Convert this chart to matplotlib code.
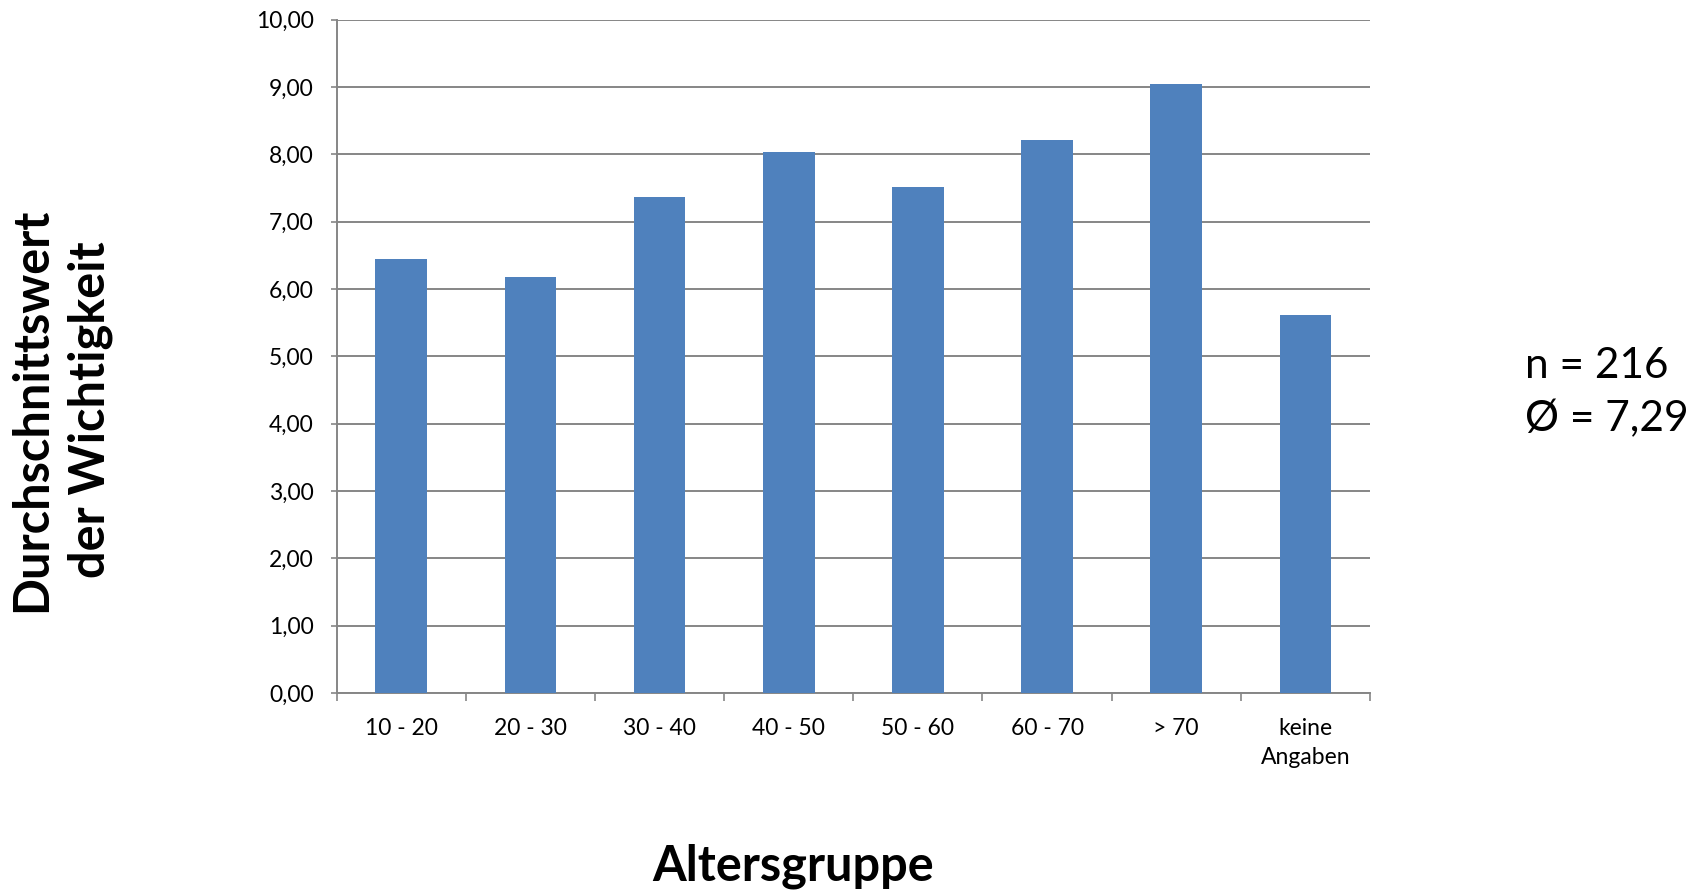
import matplotlib
matplotlib.use("Agg")
import matplotlib.pyplot as plt
import numpy as np
from matplotlib.ticker import FixedLocator

categories = ["10 - 20", "20 - 30", "30 - 40", "40 - 50", "50 - 60", "60 - 70", "> 70", "keine\nAngaben"]
values = [6.45, 6.17, 7.36, 8.03, 7.52, 8.21, 9.04, 5.61]
yticks = [0, 1, 2, 3, 4, 5, 6, 7, 8, 9, 10]
ytick_labels = ["0,00", "1,00", "2,00", "3,00", "4,00", "5,00", "6,00", "7,00", "8,00", "9,00", "10,00"]
annot = "n = 216\nØ = 7,29"

plt.rcParams['font.family'] = ['Lato', 'DejaVu Sans']

fig = plt.figure(figsize=(16.98, 8.92), dpi=100)
ax = fig.add_axes([0.1983, 0.2231, 0.6085, 0.755])

x = np.arange(len(categories))
ax.bar(x, values, width=0.4, color="#4F81BD", zorder=3)

ax.set_xlim(-0.5, len(categories) - 0.5)
ax.set_ylim(0, 10)
ax.set_yticks(yticks)
ax.set_yticklabels(ytick_labels, fontsize=16.5)
ax.set_xticks(x)
ax.set_xticklabels(categories, fontsize=16.5, linespacing=1.47, va="top")
ax.xaxis.set_minor_locator(FixedLocator(np.arange(-0.5, len(categories), 1.0)))
ax.tick_params(axis="x", which="major", length=0, pad=18)
ax.tick_params(axis="x", which="minor", length=5.5, width=1.2, color="#868686", direction="out")
ax.tick_params(axis="y", length=4.5, width=1.2, color="#868686", direction="out", pad=12)

ax.grid(axis="y", color="#868686", linewidth=1.4, zorder=0)
for s in ["top", "right"]:
    ax.spines[s].set_visible(False)
for s in ["left", "bottom"]:
    ax.spines[s].set_color("#868686")
    ax.spines[s].set_linewidth(1.4)

fig.text(0.036, 0.541, "Durchschnittswert\nder Wichtigkeit", rotation=90, ha="center", va="center",
         fontsize=35, fontweight="bold", linespacing=1.34, multialignment="center")
fig.text(0.467, 0.029, "Altersgruppe", ha="center", va="center", fontsize=35, fontweight="bold")
fig.text(0.898, 0.56, annot, ha="left", va="center", fontsize=30.5, linespacing=1.5)

fig.savefig("out.png", dpi=100)
